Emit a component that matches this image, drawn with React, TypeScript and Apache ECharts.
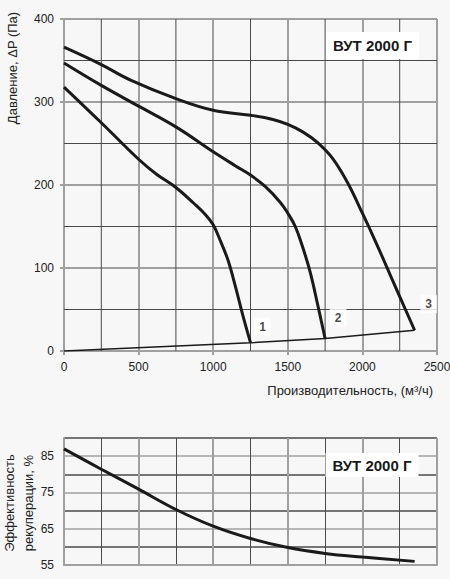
import React, { useEffect, useRef } from "react";
import * as echarts from "echarts";

// ---- data ----
const curve1: number[][] = [[0,318],[250,275],[500,231],[620,213],[750,197],[870,178],[950,164],[1000,152],[1050,132],[1100,109],[1150,77],[1200,42],[1250,10]];
const curve2: number[][] = [[0,347],[250,320],[500,295],[750,270],[1000,240],[1150,223],[1250,212],[1350,198],[1450,179],[1500,166],[1550,150],[1600,125],[1650,95],[1700,56],[1750,15]];
const curve3: number[][] = [[0,366],[250,345],[450,326],[750,304],[1000,290],[1250,284],[1400,279],[1500,273],[1600,264],[1700,251],[1800,232],[1900,203],[2000,166],[2100,127],[2200,86],[2350,25]];
const systemLine: number[][] = [[0,0],[1250,10],[1750,15],[2350,25]];
const curveNames = ["1", "2", "3"];
const efficiency: number[][] = [[0,87],[250,81.4],[500,75.9],[750,70.3],[1000,65.7],[1250,62.3],[1500,59.8],[1750,58.2],[2000,57.2],[2350,56]];
const minorFlowLines = [250, 750, 1250, 1750, 2250];
const minorPressureLines = [50, 150, 250, 350];
const effTickLabels = [55, 65, 75, 85];
const modelName = "ВУТ 2000 Г";
const xTitle = "Производительность, (м³/ч)";
const yTitle = "Давление, ΔP (Па)";
const effTitle = ["Эффективность", "рекуперации, %"];

const FONT = "'Liberation Sans', Arial, sans-serif";
const MAJOR = "#a0a0a0";
const MINOR = "#4a4a4a";
const INK = "#1a1a1a";
const CLEAR = "rgba(0,0,0,0)";

export default function App() {
  const ref = useRef<HTMLDivElement>(null);
  useEffect(() => {
    document.body.style.margin = "0";
    const chart = echarts.init(ref.current!, undefined, { renderer: "svg" });
    const curves = [curve1, curve2, curve3];
    const labelOffsets = [[12, -16], [13, -21], [14, -26]];
    const only = (list: number[]) => (v: number) => (list.includes(Math.round(v)) ? String(v) : "");
    const X_MIN = 0, X_MAX = 2500, Y_MIN = 0, Y_MAX = 400;

    chart.setOption({
      animation: false,
      backgroundColor: "#f7f7f7",
      grid: [
        { left: 64, top: 19, width: 373, height: 332, outerBoundsMode: "none", containLabel: false },
        { left: 64, top: 438, width: 373, height: 127, outerBoundsMode: "none", containLabel: false },
      ],
      xAxis: [
        {
          type: "value", gridIndex: 0, min: X_MIN, max: X_MAX, interval: 500, position: "bottom",
          axisLine: { show: true, onZero: false, lineStyle: { color: MAJOR, width: 2 } },
          axisTick: { show: true, length: 4, lineStyle: { color: MAJOR, width: 2 } },
          axisLabel: { show: true, color: "#222", fontSize: 12, fontFamily: FONT, margin: 10, formatter: (v: number) => String(v) },
          splitLine: { show: true, lineStyle: { color: MAJOR, width: 2 } },
        },
        {
          type: "value", gridIndex: 1, min: X_MIN, max: X_MAX, interval: 500, position: "bottom",
          axisLine: { show: true, onZero: false, lineStyle: { color: MAJOR, width: 2 } },
          axisTick: { show: false }, axisLabel: { show: false },
          splitLine: { show: true, lineStyle: { color: MAJOR, width: 2 } },
          minorTick: { show: true, splitNumber: 2, length: 1, lineStyle: { color: CLEAR } },
          minorSplitLine: { show: true, lineStyle: { color: MINOR, width: 1 } },
        },
      ],
      yAxis: [
        {
          type: "value", gridIndex: 0, min: Y_MIN, max: Y_MAX, interval: 100, position: "left",
          axisLine: { show: true, onZero: false, lineStyle: { color: MAJOR, width: 2 } },
          axisTick: { show: true, length: 4, lineStyle: { color: MAJOR, width: 2 } },
          axisLabel: { show: true, color: "#222", fontSize: 12, fontFamily: FONT, margin: 10 },
          splitLine: { show: true, lineStyle: { color: MAJOR, width: 2 } },
        },
        {
          type: "value", gridIndex: 1, min: 55, max: 90, interval: 5, position: "left",
          axisLine: { show: true, onZero: false, lineStyle: { color: MAJOR, width: 2 } },
          axisTick: { show: false },
          axisLabel: { color: "#222", fontSize: 12, fontFamily: FONT, margin: 10, formatter: only(effTickLabels) },
          splitLine: { show: true, lineStyle: { color: [MAJOR, MINOR], width: 1.5 } },
        },
      ],
      series: [
        {
          type: "custom", xAxisIndex: 0, yAxisIndex: 0, silent: true, z: 1, clip: false,
          data: [...minorFlowLines.map((v) => [v, 0]), ...minorPressureLines.map((v) => [v, 1])],
          renderItem: (_params: any, api: any) => {
            const v = api.value(0);
            const vertical = api.value(1) === 0;
            const a = vertical ? api.coord([v, Y_MIN]) : api.coord([X_MIN, v]);
            const b = vertical ? api.coord([v, Y_MAX]) : api.coord([X_MAX, v]);
            return {
              type: "line",
              shape: { x1: a[0], y1: a[1], x2: b[0], y2: b[1] },
              style: { stroke: MINOR, lineWidth: 1 },
              silent: true,
            };
          },
        },
        ...curves.map((c) => ({
          type: "line", xAxisIndex: 0, yAxisIndex: 0, data: c, showSymbol: false,
          smooth: 0.4, lineStyle: { color: INK, width: 3 }, z: 5,
        })),
        {
          type: "line", xAxisIndex: 0, yAxisIndex: 0, data: systemLine, showSymbol: false,
          lineStyle: { color: INK, width: 1.5 }, z: 4,
        },
        {
          type: "scatter", xAxisIndex: 0, yAxisIndex: 0, symbolSize: 0, z: 6,
          data: curves.map((c, i) => ({
            value: c[c.length - 1],
            label: {
              show: true, position: "inside", formatter: curveNames[i], offset: labelOffsets[i],
              backgroundColor: "#fff", padding: [3, 5], fontWeight: "bold", fontSize: 12,
              fontFamily: FONT, color: INK,
            },
          })),
        },
        {
          type: "line", xAxisIndex: 1, yAxisIndex: 1, data: efficiency, showSymbol: false,
          smooth: 0.4, lineStyle: { color: INK, width: 3 }, z: 5,
        },
      ],
      graphic: [
        {
          type: "text", x: 372.5, y: 45.5, z: 10,
          style: {
            text: modelName, font: `bold 15px ${FONT}`, fill: INK, align: "center", verticalAlign: "middle",
            backgroundColor: "#fff", padding: [5, 7], lineHeight: 17,
          },
        },
        {
          type: "text", x: 372, y: 465, z: 10,
          style: {
            text: modelName, font: `bold 15px ${FONT}`, fill: INK, align: "center", verticalAlign: "middle",
            backgroundColor: "#fff", padding: [4, 7], lineHeight: 16,
          },
        },
        {
          type: "text", x: 433, y: 390,
          style: { text: xTitle, font: `13px ${FONT}`, fill: "#222", align: "right", verticalAlign: "middle" },
        },
        {
          type: "text", x: 12, y: 68, rotation: Math.PI / 2,
          style: { text: yTitle, font: `13px ${FONT}`, fill: "#222", align: "center", verticalAlign: "middle" },
        },
        {
          type: "text", x: 9, y: 503, rotation: Math.PI / 2,
          style: { text: effTitle[0], font: `13px ${FONT}`, fill: "#222", align: "center", verticalAlign: "middle" },
        },
        {
          type: "text", x: 28, y: 503, rotation: Math.PI / 2,
          style: { text: effTitle[1], font: `13px ${FONT}`, fill: "#222", align: "center", verticalAlign: "middle" },
        },
      ],
    });
    return () => chart.dispose();
  }, []);
  return <div ref={ref} style={{ position: "absolute", left: 0, top: 0, width: 450, height: 579 }} />;
}
